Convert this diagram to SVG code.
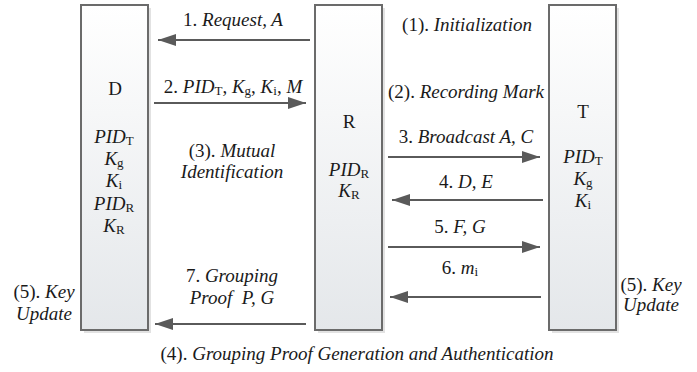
<svg xmlns="http://www.w3.org/2000/svg" width="697" height="372" viewBox="0 0 697 372" font-family="Liberation Serif">
<style>
text{font-family:'Liberation Serif',serif;font-size:19px;fill:#1a1a1a;text-anchor:middle}
.i{font-style:italic}
.s{font-size:13px;font-style:normal}
.box{fill:url(#g);stroke:#6b6b6b;stroke-width:2}
.sh{fill:#e2e2e2}
.a{stroke:#5a5a5a;stroke-width:2.2;fill:none;marker-end:url(#ah)}
</style>
<defs>
<linearGradient id="g" x1="0" y1="0" x2="0" y2="1">
<stop offset="0" stop-color="#ffffff"/>
<stop offset="1" stop-color="#e4e7ea"/>
</linearGradient>
<marker id="ah" markerUnits="userSpaceOnUse" markerWidth="20" markerHeight="12" refX="18" refY="6" orient="auto">
<path d="M0,0 L18,6 L0,12 Z" fill="#5a5a5a"/>
</marker>
</defs>
<rect width="697" height="372" fill="#ffffff"/>
<g id="node-D">
<rect class="sh" x="84" y="8" width="67" height="325"/>
<rect class="box" x="81" y="5" width="67" height="325"/>
<text x="115" y="95">D</text>
<text x="114" y="143"><tspan class="i">PID</tspan><tspan class="s" dy="2">T</tspan></text>
<text x="114" y="165"><tspan class="i">K</tspan><tspan class="s" dy="2">g</tspan></text>
<text x="114" y="187"><tspan class="i">K</tspan><tspan class="s" dy="2">i</tspan></text>
<text x="114" y="210"><tspan class="i">PID</tspan><tspan class="s" dy="2">R</tspan></text>
<text x="114" y="232"><tspan class="i">K</tspan><tspan class="s" dy="2">R</tspan></text>
</g>
<g id="node-R">
<rect class="sh" x="318" y="8" width="67" height="325"/>
<rect class="box" x="315" y="5" width="67" height="325"/>
<text x="349" y="128">R</text>
<text x="349" y="176"><tspan class="i">PID</tspan><tspan class="s" dy="2">R</tspan></text>
<text x="349" y="197"><tspan class="i">K</tspan><tspan class="s" dy="2">R</tspan></text>
</g>
<g id="node-T">
<rect class="sh" x="552" y="8" width="67" height="325"/>
<rect class="box" x="549" y="5" width="67" height="325"/>
<text x="583" y="118">T</text>
<text x="583" y="163"><tspan class="i">PID</tspan><tspan class="s" dy="2">T</tspan></text>
<text x="583" y="185"><tspan class="i">K</tspan><tspan class="s" dy="2">g</tspan></text>
<text x="583" y="207"><tspan class="i">K</tspan><tspan class="s" dy="2">i</tspan></text>
</g>
<g id="connectors">
<line class="a" x1="310" y1="40" x2="158" y2="40"/>
<line class="a" x1="154" y1="103" x2="306" y2="103"/>
<line class="a" x1="388" y1="157" x2="540" y2="157"/>
<line class="a" x1="543" y1="200" x2="392" y2="200"/>
<line class="a" x1="388" y1="247" x2="540" y2="247"/>
<line class="a" x1="541" y1="297" x2="390" y2="297"/>
<line class="a" x1="306" y1="324" x2="155" y2="324"/>
</g>
<g id="labels">
<text x="233" y="26">1. <tspan class="i">Request, A</tspan></text>
<text x="233" y="93">2. <tspan class="i">PID</tspan><tspan class="s" dy="2">T</tspan><tspan dy="-2">, </tspan><tspan class="i">K</tspan><tspan class="s" dy="2">g</tspan><tspan dy="-2">, </tspan><tspan class="i">K</tspan><tspan class="s" dy="2">i</tspan><tspan dy="-2">, </tspan><tspan class="i">M</tspan></text>
<text x="232" y="157">(3). <tspan class="i">Mutual</tspan></text>
<text x="232" y="178" class="i">Identification</text>
<text x="467" y="31">(1). <tspan class="i">Initialization</tspan></text>
<text x="466" y="98">(2). <tspan class="i">Recording Mark</tspan></text>
<text x="466" y="143">3. <tspan class="i">Broadcast A, C</tspan></text>
<text x="466" y="188">4. <tspan class="i">D, E</tspan></text>
<text x="460" y="233">5. <tspan class="i">F, G</tspan></text>
<text x="460" y="274">6. <tspan class="i">m</tspan><tspan class="s" dy="2">i</tspan></text>
<text x="232" y="282">7. <tspan class="i">Grouping</tspan></text>
<text x="232" y="304" class="i">Proof&#160; P, G</text>
<text x="44" y="298">(5). <tspan class="i">Key</tspan></text>
<text x="44" y="320" class="i">Update</text>
<text x="651" y="291">(5). <tspan class="i">Key</tspan></text>
<text x="651" y="311" class="i">Update</text>
<text x="357" y="360">(4). <tspan class="i">Grouping Proof Generation and Authentication</tspan></text>
</g>
</svg>
